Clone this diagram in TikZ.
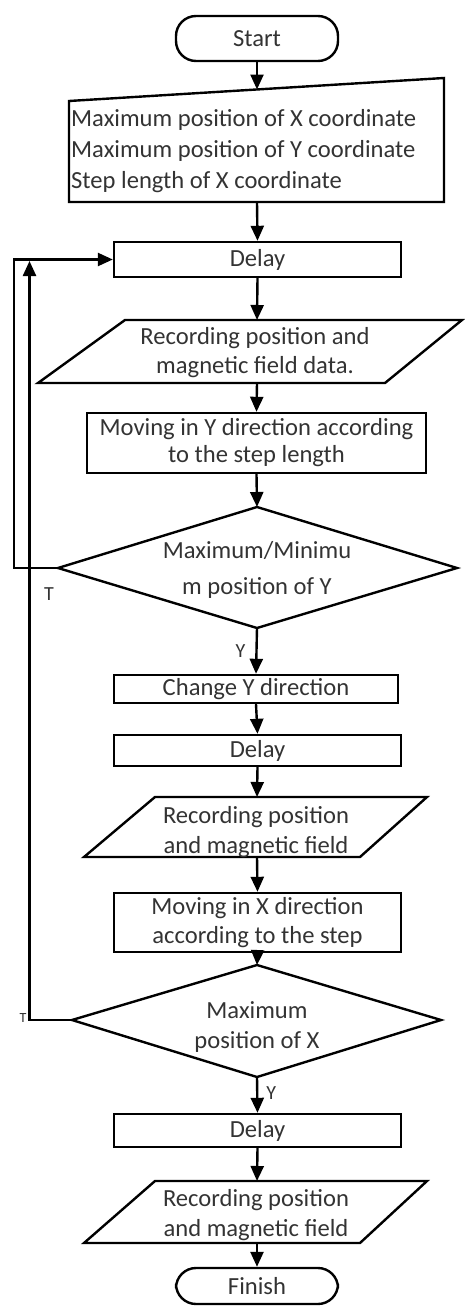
\documentclass[tikz,border=0pt]{standalone}
\usepackage{fontspec}
\setmainfont{Carlito}
\usetikzlibrary{arrows.meta}
\begin{document}
\begin{tikzpicture}[x=1pt,y=-1pt,
  line width=2.4pt,
  box/.style={draw=black, line width=2.4pt, line join=miter},
  txt/.style={font=\fontsize{24.6}{29}\selectfont, text=black!80, align=center, inner sep=0pt},
  procbox/.style={box, txt, rectangle},
  term/.style={box, txt, rectangle, rounded corners=20pt, minimum width=162pt},
  arr/.style={-{Triangle[width=13pt,length=15pt]}, line width=2.4pt},
  lbl/.style={font=\fontsize{20}{24}\selectfont, text=black!80, inner sep=0pt}]
\useasboundingbox (0,0) rectangle (465,1306);

% Start
\node[term, minimum height=45pt] (start) at (257,38.5) {Start};

% Manual input
\draw[box] (69,101) -- (444,78) -- (444,202) -- (69,202) -- cycle;
\coordinate (inp-n) at (257,89.5);
\coordinate (inp-s) at (257,202);
\node[txt, align=left, anchor=west, font=\fontsize{24.6}{31}\selectfont] (inp) at (70,151)
  {Maximum position of X coordinate\\Maximum position of Y coordinate\\Step length of X coordinate};

% Delay 1
\node[procbox, minimum width=287pt, minimum height=35pt] (delay1) at (257.5,259.5) {Delay};

% Recording 1
\draw[box] (125,320) -- (462,320) -- (385,383) -- (38,383) -- cycle;
\coordinate (rec1-n) at (257,320);
\coordinate (rec1-s) at (257,383);
\node[txt] (rec1) at (255,352.5) {Recording position and\\magnetic field data.};

% Moving Y
\node[procbox, minimum width=339pt, minimum height=60pt, font=\fontsize{24.6}{27}\selectfont] (movey) at (256.5,443) {Moving in Y direction according\\to the step length};

% Diamond 1
\draw[box] (257,507) -- (457,568) -- (257,628) -- (58,568) -- cycle;
\coordinate (dia1-n) at (257,507);
\coordinate (dia1-s) at (257,628);
\coordinate (dia1-w) at (58,568);
\node[txt, font=\fontsize{24.6}{36}\selectfont] (dia1) at (257,570) {Maximum/Minimu\\m position of Y};

% Change Y
\node[procbox, minimum width=284pt, minimum height=28pt] (changey) at (256,689) {Change Y direction};

% Delay 2
\node[procbox, minimum width=287pt, minimum height=31pt] (delay2) at (257.5,750.5) {Delay};

% Recording 2
\draw[box] (155,797) -- (427,797) -- (360,857) -- (84,857) -- cycle;
\coordinate (rec2-n) at (257,797);
\coordinate (rec2-s) at (257,857);
\node[txt, font=\fontsize{24.6}{30}\selectfont] (rec2) at (256,832) {Recording position\\and magnetic field};

% Moving X
\node[procbox, minimum width=287pt, minimum height=59pt] (movex) at (257.5,922.5) {Moving in X direction\\according to the step};

% Diamond 2
\draw[box] (257,965) -- (441,1020) -- (257,1077) -- (72,1020) -- cycle;
\coordinate (dia2-n) at (257,965);
\coordinate (dia2-s) at (257,1077);
\coordinate (dia2-w) at (72,1020);
\node[txt, font=\fontsize{24.6}{30}\selectfont] (dia2) at (257,1027) {Maximum\\position of X};

% Delay 3
\node[procbox, minimum width=287pt, minimum height=33pt] (delay3) at (257.5,1130.5) {Delay};

% Recording 3
\draw[box] (155,1181) -- (427,1181) -- (360,1243) -- (84,1243) -- cycle;
\coordinate (rec3-n) at (257,1181);
\coordinate (rec3-s) at (257,1243);
\node[txt, font=\fontsize{24.6}{30}\selectfont] (rec3) at (256,1215) {Recording position\\and magnetic field};

% Finish
\node[term, minimum height=36pt] (finish) at (257,1286) {Finish};

% Main flow
\draw[arr] (start.south) -- (inp-n);
\draw[arr] (inp-s) -- (delay1.north);
\draw[arr] (delay1.south) -- (rec1-n);
\draw[arr] (rec1-s) -- (movey.north);
\draw[arr] (movey.south) -- (dia1-n);
\draw[arr] (dia1-s) -- node[lbl, left=10pt, pos=0.5] (ylab1) {Y} (changey.north);
\draw[arr] (changey.south) -- (delay2.north);
\draw[arr] (delay2.south) -- (rec2-n);
\draw[arr] (rec2-s) -- (movex.north);
\draw[arr] (movex.south) -- (dia2-n);
\draw[arr] (dia2-s) -- node[lbl, right=8pt, pos=0.45] (ylab2) {Y} (delay3.north);
\draw[arr] (delay3.south) -- (rec3-n);
\draw[arr] (rec3-s) -- (finish.north);

% Loops
\coordinate (loopA) at (14,0);
\coordinate (loopB) at (29.5,0);
\draw[arr] (dia1-w) -- (dia1-w -| loopA) -- (loopA |- delay1.west) -- (delay1.west);
\draw[arr] (dia2-w) -- (dia2-w -| loopB) -- (29.5,261);
\node[lbl] (tlab1) at (49,594) {T};
\node[lbl, font=\fontsize{14}{16}\selectfont] (tlab2) at (23,1018) {T};
\end{tikzpicture}
\end{document}
